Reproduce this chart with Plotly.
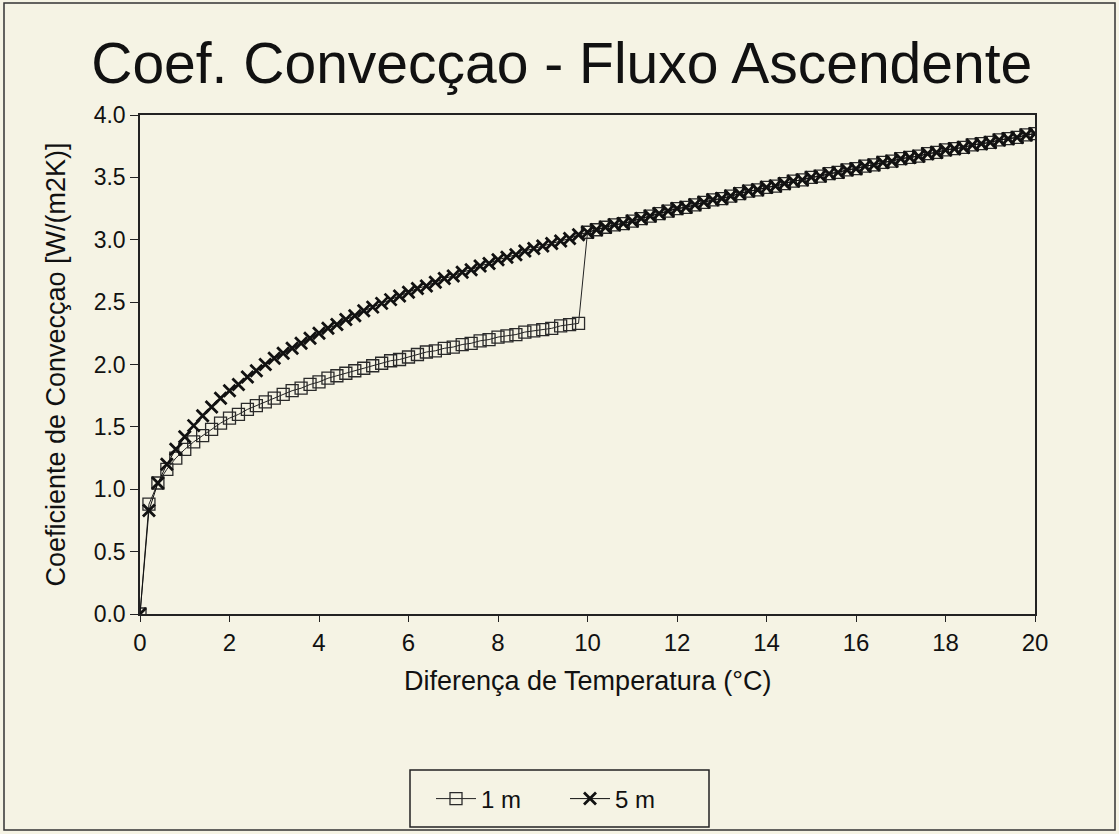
import plotly.graph_objects as go

# Temperature difference (°C), step 0.2
dt_5m = [round(i * 0.2, 1) for i in range(101)]
h_5m = [0.00, 0.83, 1.05, 1.20, 1.32, 1.42, 1.51, 1.59, 1.66, 1.73,
        1.79, 1.84, 1.90, 1.95, 2.00, 2.05, 2.09, 2.13, 2.17, 2.21,
        2.25, 2.29, 2.32, 2.36, 2.39, 2.43, 2.46, 2.49, 2.52, 2.55,
        2.58, 2.61, 2.63, 2.66, 2.69, 2.71, 2.74, 2.76, 2.79, 2.81,
        2.84, 2.86, 2.88, 2.91, 2.93, 2.95, 2.97, 2.99, 3.01, 3.04,
        3.06, 3.08, 3.10, 3.12, 3.13, 3.15, 3.17, 3.19, 3.21, 3.23,
        3.25, 3.26, 3.28, 3.30, 3.32, 3.33, 3.35, 3.37, 3.39, 3.40,
        3.42, 3.43, 3.45, 3.47, 3.48, 3.50, 3.51, 3.53, 3.54, 3.56,
        3.57, 3.59, 3.60, 3.62, 3.63, 3.65, 3.66, 3.67, 3.69, 3.70,
        3.72, 3.73, 3.74, 3.76, 3.77, 3.78, 3.80, 3.81, 3.82, 3.84,
        3.85]

dt_1m = [round(i * 0.2, 1) for i in range(101)]
h_1m = [0.00, 0.88, 1.05, 1.16, 1.25, 1.32, 1.38, 1.43, 1.48, 1.53,
        1.57, 1.60, 1.64, 1.67, 1.70, 1.73, 1.76, 1.79, 1.81, 1.84,
        1.86, 1.89, 1.91, 1.93, 1.95, 1.97, 1.99, 2.01, 2.03, 2.04,
        2.06, 2.08, 2.10, 2.11, 2.13, 2.14, 2.16, 2.17, 2.19, 2.20,
        2.22, 2.23, 2.24, 2.26, 2.27, 2.28, 2.29, 2.31, 2.32, 2.33,
        3.06, 3.08, 3.10, 3.12, 3.13, 3.15, 3.17, 3.19, 3.21, 3.23,
        3.25, 3.26, 3.28, 3.30, 3.32, 3.33, 3.35, 3.37, 3.39, 3.40,
        3.42, 3.43, 3.45, 3.47, 3.48, 3.50, 3.51, 3.53, 3.54, 3.56,
        3.57, 3.59, 3.60, 3.62, 3.63, 3.65, 3.66, 3.67, 3.69, 3.70,
        3.72, 3.73, 3.74, 3.76, 3.77, 3.78, 3.80, 3.81, 3.82, 3.84,
        3.85]

series_names = ["1 m", "5 m"]
title_text = "Coef. Convecçao - Fluxo Ascendente"
x_title = "Diferença de Temperatura (°C)"
y_title = "Coeficiente de Convecçao [W/(m2K)]"
x_ticks = [0, 2, 4, 6, 8, 10, 12, 14, 16, 18, 20]
y_ticks = [0.0, 0.5, 1.0, 1.5, 2.0, 2.5, 3.0, 3.5, 4.0]

BG = "#f5f3e4"
FONT = "Liberation Sans, Arial, Helvetica, sans-serif"

fig = go.Figure()
fig.add_trace(go.Scatter(
    x=dt_1m, y=h_1m, name=series_names[0], mode="lines+markers",
    line=dict(color="#222222", width=1),
    marker=dict(symbol="square-open", size=12, color="#2a2a2a",
                line=dict(width=1.3, color="#2a2a2a")),
))
fig.add_trace(go.Scatter(
    x=dt_5m, y=h_5m, name=series_names[1], mode="lines+markers",
    line=dict(color="#111111", width=1),
    marker=dict(symbol="x-thin", size=12, color="#111111",
                line=dict(width=2.8, color="#111111")),
))

L, R, T, B = 140, 84, 115, 220
W, H = 1119, 834
pw, ph = W - L - R, H - T - B

def px_to_paper_x(px):
    return (px - L) / pw

def px_to_paper_y(py):
    return (H - B - py) / ph

# scanned page frame
fig.add_shape(type="rect", xref="paper", yref="paper",
              x0=px_to_paper_x(4), x1=px_to_paper_x(1115),
              y0=px_to_paper_y(830), y1=px_to_paper_y(3),
              line=dict(color="#333333", width=1.5), layer="below")
# legend box
fig.add_shape(type="rect", xref="paper", yref="paper",
              x0=px_to_paper_x(410), x1=px_to_paper_x(709),
              y0=px_to_paper_y(827), y1=px_to_paper_y(770),
              line=dict(color="#222222", width=1.5), layer="below")

# x-axis title placed under the tick labels
fig.add_annotation(text=x_title, xref="paper", yref="paper",
                   x=0.5, y=px_to_paper_y(681), xanchor="center", yanchor="middle",
                   showarrow=False,
                   font=dict(size=27, family=FONT, color="#111111"))

fig.update_layout(
    width=W, height=H,
    margin=dict(l=L, r=R, t=T, b=B),
    paper_bgcolor=BG, plot_bgcolor=BG,
    font=dict(family=FONT, color="#111111"),
    title=dict(text=title_text, x=0.502, xanchor="center",
               y=1 - 63 / H, yanchor="middle",
               font=dict(size=57, family=FONT, color="#111111")),
    showlegend=True,
    legend=dict(orientation="h", xref="container", yref="container",
                x=565 / W, xanchor="center", y=1 - 799 / H, yanchor="middle",
                bgcolor="rgba(0,0,0,0)", borderwidth=0,
                font=dict(size=24, family=FONT, color="#111111"),
                itemwidth=40, entrywidth=79),
)
fig.update_xaxes(
    range=[0, 20], tickvals=x_ticks, ticktext=[str(v) for v in x_ticks],
    showline=True, linecolor="#222222", linewidth=1.5, mirror=True,
    ticks="outside", ticklen=6, tickcolor="#222222", tickwidth=1,
    showgrid=False, zeroline=False,
    tickfont=dict(size=24, family=FONT, color="#111111"),
)
fig.update_yaxes(
    range=[0, 4.0], tickvals=y_ticks, tickformat=".1f",
    showline=True, linecolor="#222222", linewidth=1.5, mirror=True,
    ticks="outside", ticklen=8, tickcolor="#222222", tickwidth=1,
    showgrid=False, zeroline=False,
    tickfont=dict(size=23, family=FONT, color="#111111"),
    title=dict(text=y_title, font=dict(size=27, family=FONT, color="#111111"),
               standoff=20),
)

fig.write_html("out.html")
